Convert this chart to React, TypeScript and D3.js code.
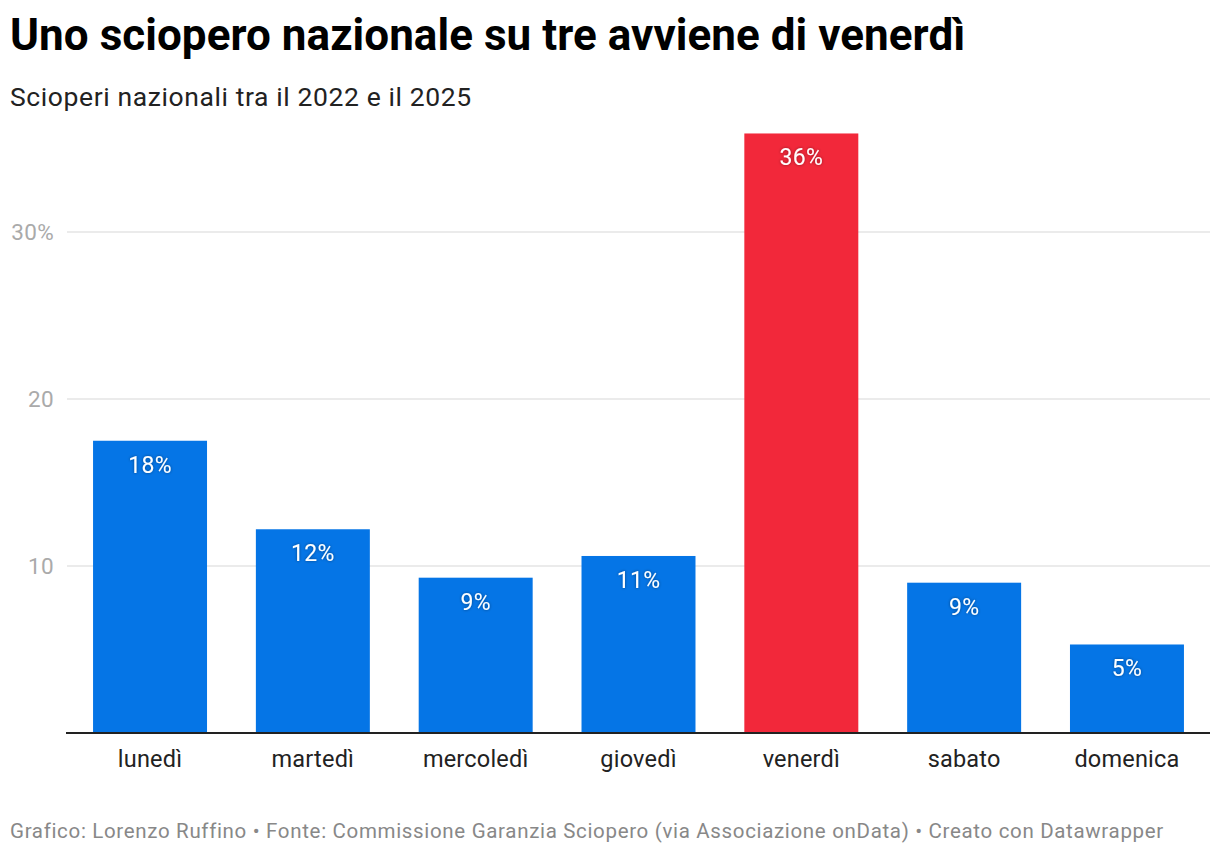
import React, { useEffect, useRef } from 'react';
import * as d3 from 'd3';

const days = ['lunedì', 'martedì', 'mercoledì', 'giovedì', 'venerdì', 'sabato', 'domenica'];
const shares = [17.5, 12.2, 9.3, 10.6, 35.9, 9.0, 5.3];
const valueLabels = ['18%', '12%', '9%', '11%', '36%', '9%', '5%'];
const yTicks = [10, 20, 30];
const yTickLabels = ['10', '20', '30%'];
const highlight = 'venerdì';

const W = 1220;
const H = 854;
const FONT = 'Roboto, "Noto Sans", sans-serif';

const App = () => {
  const ref = useRef<SVGSVGElement>(null);

  useEffect(() => {
    const svg = d3.select(ref.current);
    svg.selectAll('*').remove();

    const defs = svg.append('defs');
    defs.append('filter')
      .attr('id', 'glow')
      .attr('x', '-20%').attr('y', '-40%').attr('width', '140%').attr('height', '180%')
      .append('feDropShadow')
      .attr('dx', 0).attr('dy', 0).attr('stdDeviation', 1.6)
      .attr('flood-color', '#000').attr('flood-opacity', 0.45);

    const x = d3.scaleBand<string>()
      .domain(days)
      .range([67, 1210])
      .paddingInner(0.3)
      .paddingOuter(0.16);

    const y = d3.scaleLinear().domain([0, 30]).range([733, 232]);

    // title block
    svg.append('text')
      .attr('x', 10).attr('y', 50)
      .attr('font-family', FONT).attr('font-weight', 700).attr('font-size', 44)
      .attr('letter-spacing', 0.05)
      .attr('fill', '#000')
      .text('Uno sciopero nazionale su tre avviene di venerdì');

    svg.append('text')
      .attr('x', 10).attr('y', 106)
      .attr('font-family', FONT).attr('font-size', 26.5)
      .attr('letter-spacing', 0.6)
      .attr('fill', '#222')
      .text('Scioperi nazionali tra il 2022 e il 2025');

    // gridlines and tick labels
    const grid = svg.append('g');
    grid.selectAll('line')
      .data(yTicks)
      .join('line')
      .attr('x1', 67).attr('x2', 1210)
      .attr('y1', d => y(d)).attr('y2', d => y(d))
      .attr('stroke', '#e4e4e4').attr('stroke-width', 1.5);

    grid.selectAll('text')
      .data(yTicks)
      .join('text')
      .attr('x', 54)
      .attr('y', d => y(d) + 8)
      .attr('text-anchor', 'end')
      .attr('font-family', FONT).attr('font-size', 22.5)
      .attr('letter-spacing', 0.3)
      .attr('fill', '#aaaaaa')
      .text((d, i) => yTickLabels[i]);

    // bars
    svg.append('g')
      .selectAll('rect')
      .data(days)
      .join('rect')
      .attr('x', d => x(d)!)
      .attr('width', x.bandwidth())
      .attr('y', (d, i) => y(shares[i]))
      .attr('height', (d, i) => y(0) - y(shares[i]))
      .attr('fill', d => (d === highlight ? '#f2283a' : '#0575e6'));

    // value labels
    svg.append('g')
      .selectAll('text')
      .data(days)
      .join('text')
      .attr('x', d => x(d)! + x.bandwidth() / 2)
      .attr('y', (d, i) => y(shares[i]) + 32)
      .attr('text-anchor', 'middle')
      .attr('font-family', FONT).attr('font-size', 23)
      .attr('letter-spacing', 0.3)
      .attr('fill', '#fff')
      .attr('filter', 'url(#glow)')
      .text((d, i) => valueLabels[i]);

    // baseline
    svg.append('line')
      .attr('x1', 66).attr('x2', 1210)
      .attr('y1', y(0)).attr('y2', y(0))
      .attr('stroke', '#222').attr('stroke-width', 2);

    // category labels
    svg.append('g')
      .selectAll('text')
      .data(days)
      .join('text')
      .attr('x', d => x(d)! + x.bandwidth() / 2)
      .attr('y', 767)
      .attr('text-anchor', 'middle')
      .attr('font-family', FONT).attr('font-size', 23.5)
      .attr('letter-spacing', 0.2)
      .attr('fill', '#222')
      .text(d => d);

    // footer
    svg.append('text')
      .attr('x', 10).attr('y', 838)
      .attr('font-family', FONT).attr('font-size', 20.5)
      .attr('letter-spacing', 0.67)
      .attr('fill', '#888')
      .text('Grafico: Lorenzo Ruffino • Fonte: Commissione Garanzia Sciopero (via Associazione onData) • Creato con Datawrapper');
  }, []);

  return (
    <svg
      ref={ref}
      width={W}
      height={H}
      style={{ position: 'absolute', top: 0, left: 0, background: '#fff' }}
    />
  );
};

export default App;
